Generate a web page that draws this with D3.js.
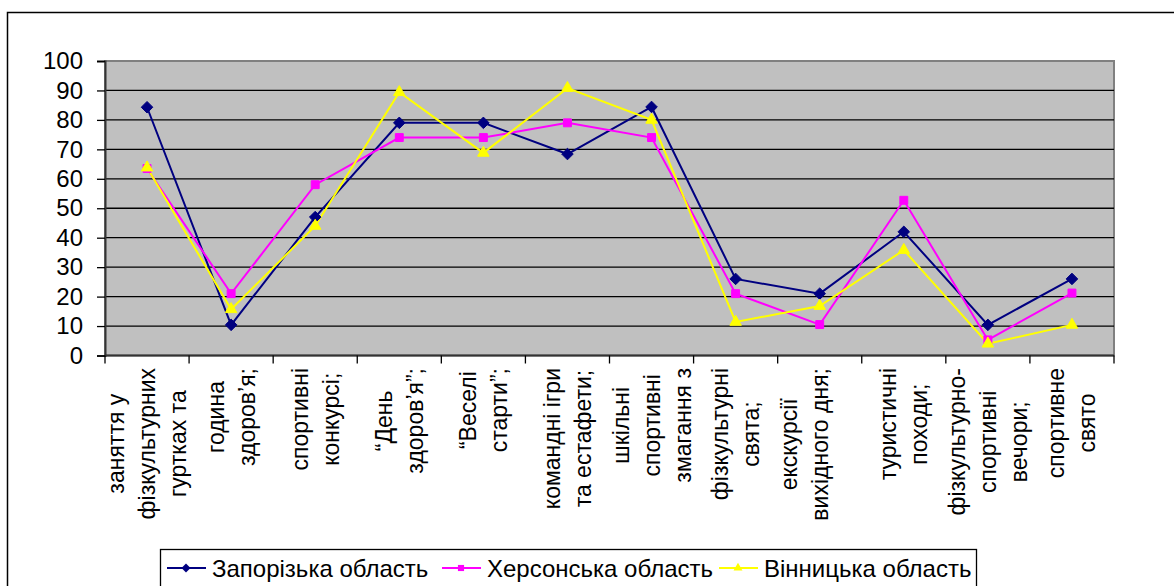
<!DOCTYPE html>
<html>
<head>
<meta charset="utf-8">
<script src="https://cdn.jsdelivr.net/npm/d3@7"></script>
<style>
  body { margin: 0; background: #fff; }
  text { font-family: "Liberation Sans", Arial, sans-serif; fill: #000; }
</style>
</head>
<body>
<div id="chart"></div>
<script>
// category labels, one array of wrapped lines per category
const categories = [
    ["заняття у", "фізкультурних", "гуртках та"],
    ["година", "здоров’я;"],
    ["спортивні", "конкурсі;"],
    ["“День", "здоров’я”;"],
    ["“Веселі", "старти”;"],
    ["командні ігри", "та естафети;"],
    ["шкільні", "спортивні", "змагання з"],
    ["фізкультурні", "свята;"],
    ["екскурсії", "вихідного дня;", ""],
    ["туристичні", "походи;"],
    ["фізкультурно-", "спортивні", "вечори;"],
    ["спортивне", "свято"]
];

const zaporizhzhia = [84.3, 10.4, 47, 79, 79, 68.4, 84.4, 26, 21, 42, 10.4, 26];
const kherson      = [63.5, 21, 58, 74, 74, 79, 74, 21, 10.5, 52.7, 5.3, 21.2];
const vinnytsia    = [63.8, 15.7, 44, 89.4, 68.8, 90.8, 80, 11.4, 16.8, 35.8, 4, 10.4];

const seriesNames = ["Запорізька область", "Херсонська область", "Вінницька область"];
const yTicks = [0, 10, 20, 30, 40, 50, 60, 70, 80, 90, 100];

const W = 1174, H = 586;
const plot = { left: 105, right: 1114, top: 61, bottom: 355.5 };
const FONT = 23;

const svg = d3.select("#chart").append("svg")
    .attr("width", W)
    .attr("height", H);

// outer chart frame (only left and top visible)
svg.append("path")
    .attr("d", `M7.5,${H + 5} V12.5 H${W + 5}`)
    .attr("fill", "none")
    .attr("stroke", "#000")
    .attr("stroke-width", 1.5);

const x = d3.scaleBand()
    .domain(d3.range(categories.length))
    .range([plot.left, plot.right]);

const y = d3.scaleLinear()
    .domain([0, 100])
    .range([plot.bottom, plot.top]);

// plot background
svg.append("rect")
    .attr("x", plot.left)
    .attr("y", plot.top)
    .attr("width", plot.right - plot.left)
    .attr("height", plot.bottom - plot.top)
    .attr("fill", "#c0c0c0")
    .attr("stroke", "#808080")
    .attr("stroke-width", 2);

// gridlines
svg.append("g")
    .selectAll("line")
    .data(yTicks.filter(d => d > 0 && d < 100))
    .enter()
    .append("line")
    .attr("x1", plot.left)
    .attr("x2", plot.right)
    .attr("y1", d => y(d))
    .attr("y2", d => y(d))
    .attr("stroke", "#000")
    .attr("stroke-width", 1.3);

// y axis
const yAxis = svg.append("g")
    .attr("transform", `translate(${plot.left},0)`)
    .call(d3.axisLeft(y).tickValues(yTicks).tickSize(8).tickPadding(14));
yAxis.select(".domain").attr("stroke", "#333").attr("stroke-width", 2);
yAxis.selectAll(".tick line").attr("stroke", "#000").attr("stroke-width", 1.3);
yAxis.selectAll(".tick text")
    .attr("font-size", 24)
    .attr("fill", "#000")
    .style("font-family", "'Liberation Sans', Arial, sans-serif");

// x axis (category boundary ticks)
const xAxis = svg.append("g")
    .attr("transform", `translate(0,${plot.bottom})`);
xAxis.append("line")
    .attr("x1", plot.left)
    .attr("x2", plot.right)
    .attr("stroke", "#333")
    .attr("stroke-width", 2);
xAxis.selectAll(".btick")
    .data(d3.range(categories.length + 1))
    .enter()
    .append("line")
    .attr("class", "btick")
    .attr("x1", d => plot.left + d * x.bandwidth())
    .attr("x2", d => plot.left + d * x.bandwidth())
    .attr("y1", 0)
    .attr("y2", 8)
    .attr("stroke", "#000")
    .attr("stroke-width", 1.3);

// rotated, wrapped category labels
const lineGap = 31;
const labelTop = 368;
categories.forEach((lines, i) => {
    const cx = x(i) + x.bandwidth() / 2;
    const g = svg.append("g");
    const texts = lines.map((ln, j) => {
        const lx = cx + (j - (lines.length - 1) / 2) * lineGap;
        return g.append("text")
            .attr("font-size", FONT)
            .attr("text-anchor", "middle")
            .attr("dominant-baseline", "central")
            .attr("data-x", lx)
            .text(ln);
    });
    const maxLen = d3.max(texts, t => t.node().getComputedTextLength());
    const cy = labelTop + maxLen / 2;
    texts.forEach(t => {
        t.attr("transform", `translate(${t.attr("data-x")},${cy}) rotate(-90)`);
    });
});

// series
const series = [
    { name: seriesNames[0], values: zaporizhzhia, color: "#000080", symbol: d3.symbolDiamond2, size: 85 },
    { name: seriesNames[1], values: kherson, color: "#ff00ff", symbol: d3.symbolSquare2, size: 80 },
    { name: seriesNames[2], values: vinnytsia, color: "#ffff00", symbol: d3.symbolTriangle2, size: 95 }
];

const line = d3.line()
    .x((d, i) => x(i) + x.bandwidth() / 2)
    .y(d => y(d));

series.forEach(s => {
    svg.append("path")
        .datum(s.values)
        .attr("fill", "none")
        .attr("stroke", s.color)
        .attr("stroke-width", 2)
        .attr("d", line);
});

series.forEach(s => {
    const sym = d3.symbol().type(s.symbol).size(s.size);
    svg.append("g")
        .selectAll("path")
        .data(s.values)
        .enter()
        .append("path")
        .attr("transform", (d, i) => `translate(${x(i) + x.bandwidth() / 2},${y(d)})`)
        .attr("d", sym)
        .attr("fill", s.color)
        .attr("stroke", s.color)
        .attr("stroke-width", 1);
});

// legend
const legend = svg.append("g");
legend.append("rect")
    .attr("x", 160.5)
    .attr("y", 549.5)
    .attr("width", 816)
    .attr("height", 60)
    .attr("fill", "#fff")
    .attr("stroke", "#000")
    .attr("stroke-width", 1.3);

const legendX = [167, 442, 719];
const legendY = 568;
series.forEach((s, i) => {
    const lx = legendX[i];
    legend.append("line")
        .attr("x1", lx)
        .attr("x2", lx + 39)
        .attr("y1", legendY)
        .attr("y2", legendY)
        .attr("stroke", s.color)
        .attr("stroke-width", 2);
    legend.append("path")
        .attr("transform", `translate(${lx + 19},${legendY})`)
        .attr("d", d3.symbol().type(s.symbol).size(s.size * 0.6))
        .attr("fill", s.color);
    legend.append("text")
        .attr("x", lx + 45)
        .attr("y", legendY)
        .attr("dominant-baseline", "central")
        .attr("font-size", 24)
        .text(s.name);
});
</script>
</body>
</html>
